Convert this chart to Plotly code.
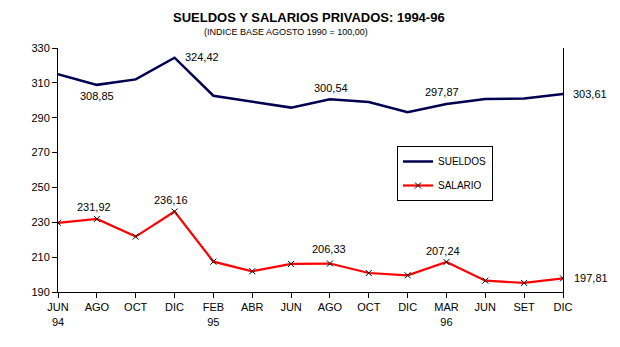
import plotly.graph_objects as go

months = ["JUN<br>94", "AGO", "OCT", "DIC", "FEB<br>95", "ABR", "JUN", "AGO", "OCT", "DIC",
          "MAR<br>96", "JUN", "SET", "DIC"]
sueldos = [314.9, 308.85, 312.0, 324.42, 302.6, 299.2, 295.8, 300.54, 299.0, 293.1,
           297.87, 300.7, 301.0, 303.61]
salario = [229.7, 231.92, 221.8, 236.16, 207.4, 201.9, 206.1, 206.33, 200.9, 199.6,
           207.24, 196.5, 195.2, 197.81]
y_ticks = [190, 210, 230, 250, 270, 290, 310, 330]

x = list(range(len(months)))
FONT = "Liberation Sans, Arial, sans-serif"

fig = go.Figure()
fig.add_trace(go.Scatter(x=x, y=sueldos, mode="lines", name="SUELDOS", legendgroup="a",
                         line=dict(color="#000050", width=2.5)))
fig.add_trace(go.Scatter(x=x, y=salario, mode="lines+markers", name="SALARIO", legendgroup="b",
                         line=dict(color="#ff0000", width=2.2),
                         marker=dict(symbol="x-thin-open", size=6,
                                     line=dict(color="#000000", width=1), color="#000000")))

def fmt(v):
    return f"{v:.2f}".replace(".", ",")

# (series, index, xanchor, xshift, yshift)
label_specs = [
    (sueldos, 1, "center", 0, -11),
    (sueldos, 3, "left", 8, 1),
    (sueldos, 7, "center", 1, 11),
    (sueldos, 10, "center", -4, 12),
    (sueldos, 13, "left", 8, 0),
    (salario, 1, "center", -3, 12),
    (salario, 3, "center", -4, 12),
    (salario, 7, "center", -1, 15),
    (salario, 10, "center", -3, 11),
    (salario, 13, "left", 9, 0),
]
for series, i, xa, xs, ys in label_specs:
    fig.add_annotation(x=x[i], y=series[i], text=fmt(series[i]), showarrow=False,
                       xanchor=xa, yanchor="middle", xshift=xs, yshift=ys,
                       font=dict(family=FONT, size=11, color="#000000"))

fig.add_annotation(xref="paper", yref="paper", x=(309 - 58) / 505, y=1,
                   text="<b>SUELDOS Y SALARIOS PRIVADOS: 1994-96</b>", showarrow=False,
                   xanchor="center", yanchor="middle", yshift=48 - 17,
                   font=dict(family=FONT, size=13, color="#000000"))
fig.add_annotation(xref="paper", yref="paper", x=(286 - 58) / 505, y=1,
                   text="(INDICE BASE AGOSTO 1990 = 100,00)", showarrow=False,
                   xanchor="center", yanchor="middle", yshift=48 - 32,
                   font=dict(family=FONT, size=9, color="#000000"))

fig.update_layout(
    width=620, height=347,
    margin=dict(l=58, r=57, t=48, b=55),
    paper_bgcolor="white", plot_bgcolor="white",
    showlegend=True,
    legend=dict(x=(397 - 58) / 505, y=(292 - 146) / 244, xanchor="left", yanchor="top",
                bordercolor="#000000", borderwidth=1, bgcolor="white",
                font=dict(family=FONT, size=10, color="#000000"),
                itemwidth=30, tracegroupgap=5),
    font=dict(family=FONT, size=11, color="#000000"),
)
fig.update_xaxes(range=[0, len(months) - 1], tickmode="array", tickvals=x, ticktext=months,
                 showgrid=False, zeroline=False, showline=True, linecolor="#000000",
                 linewidth=1, ticks="outside", ticklen=5, tickcolor="#000000",
                 tickfont=dict(family=FONT, size=11))
fig.update_yaxes(range=[190, 330], tickmode="array", tickvals=y_ticks,
                 showgrid=False, zeroline=False, showline=True, linecolor="#000000",
                 linewidth=1, mirror=True, ticks="outside", ticklen=5, tickcolor="#000000",
                 tickfont=dict(family=FONT, size=11))

fig.write_html("out.html")
